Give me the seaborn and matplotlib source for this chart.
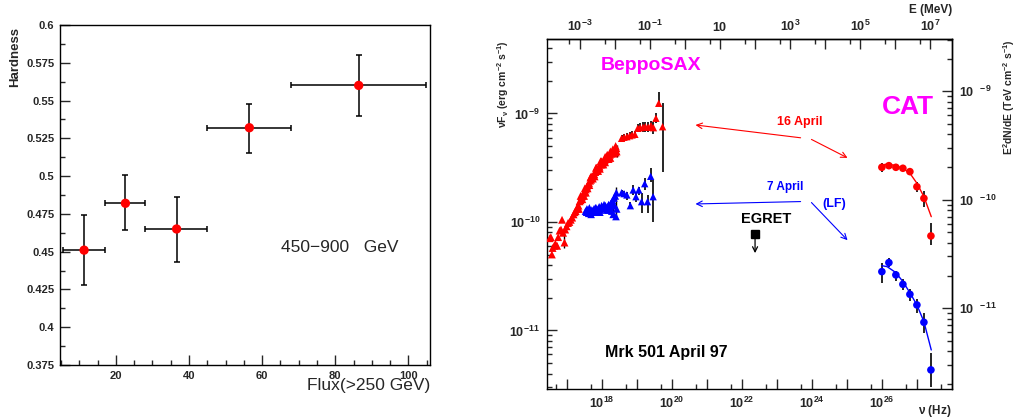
import numpy as np
import matplotlib.pyplot as plt
import matplotlib.ticker as mticker
import seaborn as sns

# ---------------- left panel: hardness vs flux ----------------
flux = [11.3, 22.6, 36.6, 56.5, 86.4]
flux_lo = [5.6, 17.1, 28.0, 45.0, 67.9]
flux_hi = [17.1, 28.0, 45.0, 67.9, 104.8]
hardness = [0.451, 0.482, 0.465, 0.532, 0.560]
hard_lo = [0.428, 0.464, 0.443, 0.515, 0.540]
hard_hi = [0.474, 0.501, 0.486, 0.548, 0.580]

# ---------------- right panel: Mrk 501 SED (log10 values) ----------------
# BeppoSAX 16 April, low energy + dense band
sax16_lognu = [16.52, 16.55, 16.58, 16.60, 16.65, 16.68, 16.73, 16.76, 16.80, 16.84,
               16.87, 16.90, 16.94, 16.96, 17.00, 17.04, 17.08, 17.12, 17.16, 17.20,
               17.23, 17.26, 17.29, 17.31, 17.34, 17.37, 17.40, 17.43, 17.46, 17.49,
               17.52, 17.55, 17.58, 17.61, 17.64, 17.67, 17.70, 17.73, 17.76, 17.79,
               17.82, 17.85, 17.88, 17.91, 17.94, 17.97, 18.00, 18.03, 18.06, 18.09,
               18.12, 18.15, 18.18, 18.21, 18.24, 18.27, 18.30, 18.33, 18.36, 18.39,
               18.42, 17.45, 17.60, 17.75, 17.90, 18.05, 18.20, 18.35, 18.43, 17.52,
               17.68, 17.84, 18.00, 18.16, 18.32, 17.40, 17.55, 17.70, 17.85, 17.97,
               18.10, 18.25, 18.40, 17.35, 17.50, 17.65, 17.80, 17.95, 18.10, 18.25,
               18.40]
sax16_logf = [-10.15, -10.14, -10.30, -10.24, -10.22, -10.20, -10.22, -10.14, -10.08, -10.07,
              -9.98, -10.10, -10.19, -10.07, -10.04, -10.01, -10.00, -9.98, -9.96, -9.93,
              -9.91, -9.90, -9.88, -9.86, -9.85, -9.81, -9.80, -9.77, -9.76, -9.73,
              -9.72, -9.70, -9.67, -9.66, -9.64, -9.62, -9.61, -9.58, -9.57, -9.56,
              -9.54, -9.53, -9.51, -9.50, -9.49, -9.47, -9.47, -9.45, -9.44, -9.43,
              -9.42, -9.41, -9.40, -9.39, -9.38, -9.37, -9.36, -9.35, -9.34, -9.33,
              -9.32, -9.79, -9.69, -9.60, -9.53, -9.47, -9.42, -9.37, -9.35, -9.69,
              -9.59, -9.50, -9.44, -9.38, -9.33, -9.76, -9.73, -9.58, -9.50, -9.44,
              -9.40, -9.35, -9.30, -9.88, -9.76, -9.66, -9.58, -9.51, -9.45, -9.41,
              -9.36]

# BeppoSAX 16 April, high energy points with errors
sax16x_lognu = [18.57, 18.64, 18.72, 18.80, 18.87, 18.95, 19.03, 19.10, 19.18, 19.25,
                19.33, 19.41, 19.48, 19.55, 19.63, 19.74]
sax16x_logf = [-9.229, -9.219, -9.214, -9.205, -9.198, -9.192, -9.136, -9.131, -9.127, -9.122,
               -9.127, -9.112, -9.131, -9.044, -8.906, -9.122]
sax16x_lo = [-9.266, -9.253, -9.247, -9.238, -9.229, -9.229, -9.173, -9.168, -9.168, -9.168,
             -9.168, -9.152, -9.192, -9.090, -8.928, -9.536]
sax16x_hi = [-9.198, -9.189, -9.183, -9.168, -9.161, -9.161, -9.100, -9.090, -9.075, -9.075,
             -9.081, -9.069, -9.075, -8.998, -8.805, -8.906]

# BeppoSAX 7 April, dense band
sax7_lognu = [17.54, 17.57, 17.60, 17.63, 17.66, 17.69, 17.72, 17.75, 17.78, 17.81,
              17.84, 17.87, 17.90, 17.93, 17.96, 17.99, 18.02, 18.05, 18.08, 18.11,
              18.14, 18.17, 18.20, 18.23, 18.26, 18.29, 18.31, 18.33, 18.35, 18.37,
              18.39, 18.41, 18.42, 18.43, 17.58, 17.70, 17.82, 17.95, 18.07, 18.19, 18.30,
              17.65, 17.85, 18.00, 18.15, 18.25]
sax7_logf = [-9.90, -9.91, -9.89, -9.92, -9.90, -9.91, -9.89, -9.90, -9.88, -9.90,
             -9.87, -9.89, -9.88, -9.86, -9.89, -9.87, -9.88, -9.86, -9.87, -9.85,
             -9.87, -9.86, -9.84, -9.88, -9.83, -9.90, -9.80, -9.93, -9.78, -9.85,
             -9.76, -9.95, -9.73, -9.88, -9.88, -9.93, -9.87, -9.91, -9.84, -9.89, -9.84,
             -9.87, -9.91, -9.85, -9.89, -9.86]

# BeppoSAX 7 April, high energy points with errors
sax7x_lognu = [18.57, 18.64, 18.72, 18.82, 18.90, 18.98, 19.06, 19.14, 19.23, 19.31, 19.40, 19.47]
sax7x_logf = [-9.730, -9.739, -9.751, -9.850, -9.705, -9.767, -9.705, -9.813, -9.647, -9.813,
              -9.579, -9.767]
sax7x_lo = [-9.751, -9.763, -9.797, -9.880, -9.751, -9.813, -9.751, -9.920, -9.705, -9.920,
            -9.629, -9.997]
sax7x_hi = [-9.705, -9.714, -9.721, -9.813, -9.659, -9.721, -9.675, -9.736, -9.597, -9.751,
            -9.505, -9.613]

# small error bars on the dense bands
band_bar_lognu = [16.94, 18.43, 18.33, 18.41]
band_bar_lo = [-10.24, -9.40, -9.95, -9.97]
band_bar_hi = [-10.06, -9.29, -9.80, -9.68]

# CAT points
cat_lognu = [26.0, 26.2, 26.4, 26.6, 26.8, 27.0, 27.2, 27.4]
cat16_logf = [-9.496, -9.481, -9.496, -9.505, -9.536, -9.675, -9.782, -10.129]
cat16_lo = [-9.536, -9.512, -9.524, -9.530, -9.567, -9.726, -9.859, -10.212]
cat16_hi = [-9.459, -9.450, -9.468, -9.475, -9.505, -9.629, -9.714, -10.012]
cat7_logf = [-10.458, -10.375, -10.488, -10.575, -10.667, -10.765, -10.925, -11.364]
cat7_lo = [-10.565, -10.412, -10.541, -10.627, -10.725, -10.836, -11.020, -11.52]
cat7_hi = [-10.381, -10.335, -10.449, -10.528, -10.620, -10.712, -10.841, -11.21]

# fitted spectra
fit16_lognu = [26.0, 26.17, 26.40, 26.60, 26.80, 27.0, 27.20, 27.41]
fit16_logf = [-9.475, -9.465, -9.481, -9.505, -9.551, -9.643, -9.767, -9.951]
fit7_lognu = [26.0, 26.15, 26.40, 26.60, 26.80, 27.0, 27.20, 27.41]
fit7_logf = [-10.403, -10.412, -10.467, -10.550, -10.652, -10.765, -10.919, -11.180]

# EGRET upper limit
egret_lognu = 22.38
egret_logf = -10.112
egret_arrow_logf = -10.313

# connecting arrows: (tail lognu, tail logf, head lognu, head logf)
arrows_16 = [(23.68, -9.224, 20.68, -9.106), (23.99, -9.239, 25.02, -9.409)]
arrows_7 = [(23.68, -9.812, 20.68, -9.834), (23.99, -9.821, 25.02, -10.168)]

H_MEV = 4.1357e-21      # MeV s
ERG_PER_TEV = 1.602

sns.set_theme(style="ticks")
plt.rcParams['font.family'] = ['Liberation Sans', 'DejaVu Sans']
plt.rcParams['mathtext.fontset'] = 'custom'
plt.rcParams['mathtext.rm'] = 'Liberation Sans'
plt.rcParams['mathtext.it'] = 'Liberation Sans:italic'
plt.rcParams['mathtext.bf'] = 'Liberation Sans:bold'
plt.rcParams['mathtext.default'] = 'bf'
plt.rcParams['axes.linewidth'] = 1.0
plt.rcParams['axes.edgecolor'] = 'black'


def p(v):
    return 10 ** np.asarray(v, dtype=float)


fig = plt.figure(figsize=(10.18, 4.19), dpi=100)
ax1 = fig.add_axes([0.0589, 0.1289, 0.3635, 0.8115])
ax2 = fig.add_axes([0.5373, 0.0716, 0.3978, 0.8346])

# ---------- left ----------
xerr = [np.subtract(flux, flux_lo), np.subtract(flux_hi, flux)]
yerr = [np.subtract(hardness, hard_lo), np.subtract(hard_hi, hardness)]
ax1.errorbar(flux, hardness, xerr=xerr, yerr=yerr, fmt='none', ecolor='black',
             elinewidth=1.1, capsize=2.5, capthick=1.1, zorder=2)
sns.scatterplot(x=flux, y=hardness, color='red', s=45, edgecolor='none', ax=ax1, zorder=3)
ax1.set_xlim(4.7, 105.9)
ax1.set_ylim(0.375, 0.6)
ax1.xaxis.set_major_locator(mticker.MultipleLocator(20))
ax1.xaxis.set_minor_locator(mticker.MultipleLocator(5))
ax1.yaxis.set_major_locator(mticker.MultipleLocator(0.025))
ax1.yaxis.set_minor_locator(mticker.MultipleLocator(0.0125))
ax1.yaxis.set_major_formatter(mticker.FuncFormatter(
    lambda v, pos: f"{v:.3f}".rstrip('0').rstrip('.')))
ax1.tick_params(which='major', direction='in', length=7, width=1, labelsize=8, pad=4)
ax1.tick_params(which='minor', direction='in', length=3.5, width=1)
for lab in ax1.get_xticklabels() + ax1.get_yticklabels():
    lab.set_fontweight('bold')
ax1.text(0.597, 0.346, "450\u2212900   GeV", transform=ax1.transAxes, fontsize=12.5,
         ha='left', va='center')
fig.text(0.4224, 0.0788, "Flux(>250 GeV)", fontsize=12.5, ha='right', va='center')
fig.text(0.0147, 0.9356, "Hardness", fontsize=9.5, fontweight='bold', rotation=90,
         ha='center', va='top')

# ---------- right ----------
ax2.set_xscale('log')
ax2.set_yscale('log')

sns.scatterplot(x=p(sax16_lognu), y=p(sax16_logf), marker='^', color='red', s=32,
                edgecolor='none', ax=ax2, zorder=3)
sns.scatterplot(x=p(sax7_lognu), y=p(sax7_logf), marker='^', color='blue', s=30,
                edgecolor='none', ax=ax2, zorder=3)

for lnu, lf, lo, hi, col in [(sax16x_lognu, sax16x_logf, sax16x_lo, sax16x_hi, 'red'),
                             (sax7x_lognu, sax7x_logf, sax7x_lo, sax7x_hi, 'blue')]:
    f = p(lf)
    ax2.errorbar(p(lnu), f, yerr=[f - p(lo), p(hi) - f], fmt='none', ecolor='black',
                 elinewidth=1.2, capsize=0, zorder=2)
    sns.scatterplot(x=p(lnu), y=f, marker='^', color=col, s=28, edgecolor='none',
                    ax=ax2, zorder=3)

ax2.vlines(p(band_bar_lognu), p(band_bar_lo), p(band_bar_hi), color='black', lw=1.0, zorder=2)

for lf, lo, hi, col in [(cat16_logf, cat16_lo, cat16_hi, 'red'),
                        (cat7_logf, cat7_lo, cat7_hi, 'blue')]:
    f = p(lf)
    ax2.errorbar(p(cat_lognu), f, yerr=[f - p(lo), p(hi) - f], fmt='none',
                 ecolor='black', elinewidth=1.2, capsize=0, zorder=2)
    sns.scatterplot(x=p(cat_lognu), y=f, marker='o', color=col, s=30, edgecolor='none',
                    ax=ax2, zorder=3)

sns.lineplot(x=p(fit16_lognu), y=p(fit16_logf), color='red', lw=1.0, sort=False,
             estimator=None, ax=ax2, zorder=2)
sns.lineplot(x=p(fit7_lognu), y=p(fit7_logf), color='blue', lw=1.0, sort=False,
             estimator=None, ax=ax2, zorder=2)

ax2.plot([p(egret_lognu)], [p(egret_logf)], marker='s', color='black', ms=5.5, ls='none')
ax2.annotate('', xy=(p(egret_lognu), p(egret_arrow_logf)),
             xytext=(p(egret_lognu), p(egret_logf)),
             arrowprops=dict(arrowstyle='->', color='black', lw=0.9, mutation_scale=9))

for arrs, col in [(arrows_16, 'red'), (arrows_7, 'blue')]:
    for tx, ty, hx, hy in arrs:
        ax2.annotate('', xy=(p(hx), p(hy)), xytext=(p(tx), p(ty)),
                     arrowprops=dict(arrowstyle='->', color=col, lw=0.8, mutation_scale=10,
                                     shrinkA=0, shrinkB=0))

ax2.set_xlim(p(16.44), p(28.0))
ax2.set_ylim(p(-11.54), p(-8.316))


def sup_label(show):
    def fmt(v, pos):
        e = int(round(np.log10(v)))
        if e not in show:
            return ''
        if e == 1:
            return r'$10$'
        return r'$10^{%d}$' % e
    return fmt


ax2.xaxis.set_major_locator(mticker.FixedLocator(p(np.arange(17, 28))))
ax2.xaxis.set_major_formatter(mticker.FuncFormatter(sup_label({18, 20, 22, 24, 26})))
ax2.xaxis.set_minor_locator(mticker.LogLocator(base=10, subs=[5], numticks=30))
ax2.xaxis.set_minor_formatter(mticker.NullFormatter())
ax2.yaxis.set_major_locator(mticker.FixedLocator(p([-11, -10, -9])))
ax2.yaxis.set_major_formatter(mticker.FuncFormatter(sup_label({-11, -10, -9})))
ax2.yaxis.set_minor_locator(mticker.LogLocator(base=10, subs=np.arange(2, 10), numticks=30))
ax2.yaxis.set_minor_formatter(mticker.NullFormatter())
ax2.tick_params(which='major', direction='in', length=7, width=1, labelsize=9, pad=5)
ax2.tick_params(which='minor', direction='in', length=3.5, width=1)

top = ax2.secondary_xaxis('top', functions=(lambda nu: nu * H_MEV, lambda e: e / H_MEV))
top.xaxis.set_major_locator(mticker.FixedLocator(p(np.arange(-4, 8))))
top.xaxis.set_major_formatter(mticker.FuncFormatter(sup_label({-3, -1, 1, 3, 5, 7})))
top.xaxis.set_minor_locator(mticker.LogLocator(base=10, subs=[5], numticks=30))
top.xaxis.set_minor_formatter(mticker.NullFormatter())
top.tick_params(which='major', direction='in', length=7, width=1, labelsize=9, pad=4)
top.tick_params(which='minor', direction='in', length=3.5, width=1)

right = ax2.secondary_yaxis('right', functions=(lambda f: f / ERG_PER_TEV,
                                                lambda t: t * ERG_PER_TEV))
right.yaxis.set_major_locator(mticker.FixedLocator(p([-11, -10, -9])))
right.yaxis.set_major_formatter(mticker.FuncFormatter(
    lambda v, pos: r'$10^{\ \ %d}$' % int(round(np.log10(v)))))
right.yaxis.set_minor_locator(mticker.LogLocator(base=10, subs=np.arange(2, 10), numticks=30))
right.yaxis.set_minor_formatter(mticker.NullFormatter())
right.tick_params(which='major', direction='in', length=7, width=1, labelsize=9, pad=5)
right.tick_params(which='minor', direction='in', length=3.5, width=1)

ax2.text(0.2565, 0.925, "BeppoSAX", transform=ax2.transAxes, color='#ff00ff',
         fontsize=14, fontweight='bold', ha='center', va='center')
ax2.text(0.890, 0.807, "CAT", transform=ax2.transAxes, color='#ff00ff',
         fontsize=19, fontweight='bold', ha='center', va='center')
ax2.text(0.6237, 0.7647, "16 April", transform=ax2.transAxes, color='red',
         fontsize=9, fontweight='bold', ha='center', va='center')
ax2.text(0.588, 0.577, "7 April", transform=ax2.transAxes, color='blue',
         fontsize=8.5, fontweight='bold', ha='center', va='center')
ax2.text(0.7096, 0.528, "(LF)", transform=ax2.transAxes, color='blue',
         fontsize=9, fontweight='bold', ha='center', va='center')
ax2.text(0.5415, 0.486, "EGRET", transform=ax2.transAxes, color='black',
         fontsize=10.5, fontweight='bold', ha='center', va='center')
ax2.text(0.2936, 0.1055, "Mrk 501 April 97", transform=ax2.transAxes, color='black',
         fontsize=11.5, fontweight='bold', ha='center', va='center')

fig.text(0.494, 0.9045, r"$\nu$F$_\nu$ (erg cm$^{-2}$ s$^{-1}$)", fontsize=7.5,
         fontweight='bold', rotation=90, ha='center', va='top')
fig.text(0.991, 0.9045, r"E$^2$dN/dE (TeV cm$^{-2}$ s$^{-1}$)", fontsize=7.5,
         fontweight='bold', rotation=90, ha='center', va='top')
fig.text(0.935, 0.976, "E (MeV)", fontsize=8.5, fontweight='bold', ha='right', va='center')
fig.text(0.935, 0.018, r"$\nu$ (Hz)", fontsize=8.5, fontweight='bold', ha='right', va='center')

fig.savefig("out.png", dpi=100)
